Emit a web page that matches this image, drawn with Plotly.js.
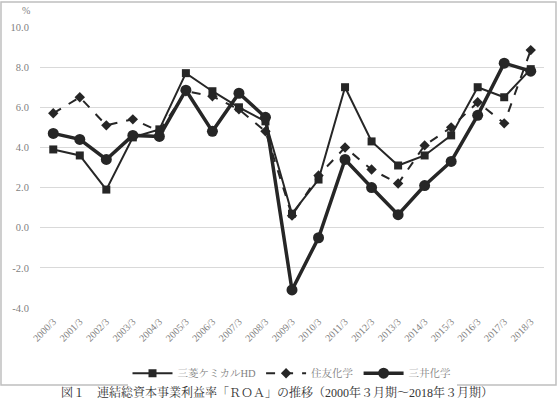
<!DOCTYPE html>
<html><head><meta charset="utf-8">
<script src="https://cdn.plot.ly/plotly-3.0.1.min.js"></script>
<style>html,body{margin:0;padding:0;background:#fff;}#chart{width:557px;height:401px;}</style>
</head><body><div id="chart"></div>
<script>
const categories = ["2000/3","2001/3","2002/3","2003/3","2004/3","2005/3","2006/3","2007/3","2008/3","2009/3","2010/3","2011/3","2012/3","2013/3","2014/3","2015/3","2016/3","2017/3","2018/3"];
const mitsubishi = [3.9,3.6,1.9,4.5,4.9,7.7,6.8,6.0,5.3,0.7,2.4,7.0,4.3,3.1,3.6,4.6,7.0,6.5,7.9];
const sumitomo   = [5.7,6.5,5.1,5.4,4.8,6.8,6.55,5.9,4.8,0.6,2.6,4.0,2.9,2.2,4.1,5.0,6.25,5.2,8.85];
const mitsui     = [4.7,4.4,3.4,4.6,4.55,6.85,4.8,6.7,5.5,-3.1,-0.5,3.4,2.0,0.65,2.1,3.3,5.6,8.2,7.8];
const seriesNames = ["三菱ケミカルHD","住友化学","三井化学"];
const yTicks = [-4,-2,0,2,4,6,8,10];
const yTickText = ["-4.0","-2.0","0.0","2.0","4.0","6.0","8.0","10.0"];
const caption = "図１　連結総資本事業利益率「ＲＯＡ」の推移（2000年３月期～2018年３月期）";

const ink = "#262626";
const fnt = "'Liberation Serif','DejaVu Serif','Noto Serif CJK JP','Noto Sans CJK JP',serif";
const traces = [
  {x: categories, y: mitsubishi, name: seriesNames[0], type: "scatter", mode: "lines+markers",
   line: {color: ink, width: 2}, marker: {symbol: "square", size: 8, color: ink}},
  {x: categories, y: sumitomo, name: seriesNames[1], type: "scatter", mode: "lines+markers",
   line: {color: ink, width: 2, dash: "dash"}, marker: {symbol: "diamond", size: 8, color: ink}},
  {x: categories, y: mitsui, name: seriesNames[2], type: "scatter", mode: "lines+markers",
   line: {color: ink, width: 3.5}, marker: {symbol: "circle", size: 11, color: ink}}
];
const layout = {
  width: 557, height: 401,
  margin: {l: 40, r: 13, t: 27, b: 93},
  paper_bgcolor: "#fff", plot_bgcolor: "#fff",
  showlegend: true,
  font: {family: fnt, color: "#595959", size: 10},
  xaxis: {type: "category", range: [-0.5, 18.5], tickangle: -45, showgrid: false, zeroline: false,
          showline: false, ticks: "outside", ticklen: 3, tickcolor: "rgba(0,0,0,0)",
          tickfont: {size: 10, color: "#7f7f7f", family: fnt}},
  yaxis: {range: [-4, 10], tickvals: yTicks, ticktext: yTickText, showgrid: true, gridcolor: "#d9d9d9",
          gridwidth: 1, zeroline: false, showline: false, ticks: "outside", ticklen: 8, tickcolor: "rgba(0,0,0,0)",
          tickfont: {size: 10.5, color: "#7f7f7f", family: fnt}},
  legend: {orientation: "h", x: 0.5, xanchor: "center", y: -0.232, yanchor: "middle",
           font: {size: 10.5, color: "#7f7f7f", family: fnt}, traceorder: "normal", itemwidth: 40},
  shapes: [{type: "rect", xref: "paper", yref: "paper", x0: -0.0774, x1: 1.0238, y0: -0.274, y1: 1.089,
            line: {color: "#bfbfbf", width: 1.5}, fillcolor: "rgba(0,0,0,0)", layer: "below"}],
  annotations: [
    {text: "%", xref: "paper", yref: "paper", x: -0.04, y: 1.06, yanchor: "middle", showarrow: false,
     font: {size: 10, color: "#7f7f7f", family: fnt}},
    {text: caption, xref: "paper", yref: "paper", x: 0.47, y: -0.3345, yanchor: "bottom", showarrow: false,
     font: {size: 12, color: "#333", family: fnt}}
  ]
};
Plotly.newPlot("chart", traces, layout, {displayModeBar: false, staticPlot: true});
</script></body></html>
